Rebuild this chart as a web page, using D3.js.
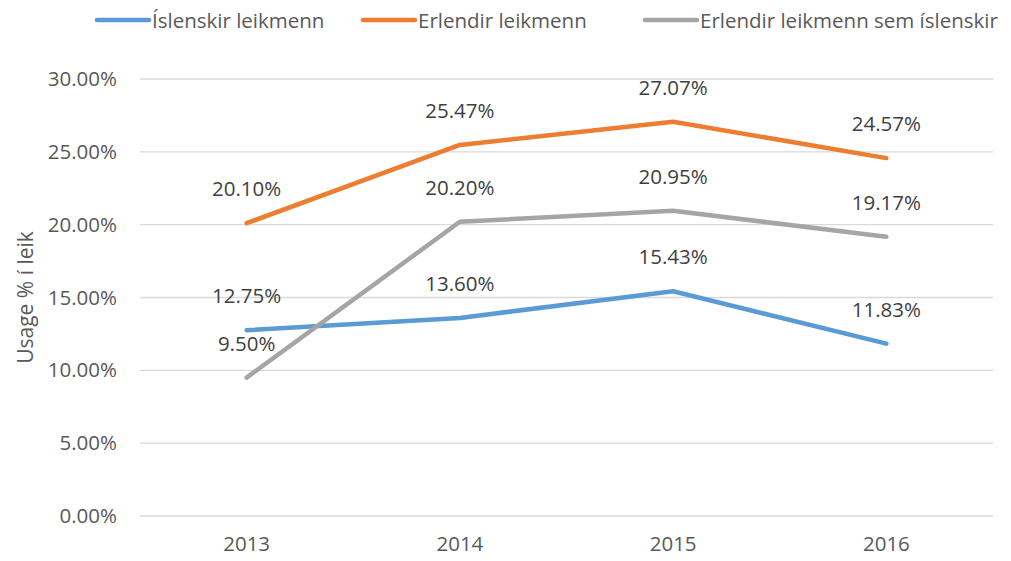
<!DOCTYPE html>
<html>
<head>
<meta charset="utf-8">
<script src="https://cdn.jsdelivr.net/npm/d3@7"></script>
<style>
  html, body { margin: 0; padding: 0; background: #fff; }
  svg { display: block; font-family: "Open Sans", sans-serif; }
</style>
</head>
<body>
<svg id="chart" width="1011" height="561"></svg>
<script>
// Years on the x axis
const years = ["2013", "2014", "2015", "2016"];
// Share of playing time (%) per group
const islenskir = [12.75, 13.60, 15.43, 11.83];
const erlendir = [20.10, 25.47, 27.07, 24.57];
const erlendirSemIsl = [9.50, 20.20, 20.95, 19.17];
// Y axis tick values (%)
const yTicks = [0, 5, 10, 15, 20, 25, 30];

const seriesNames = ["Íslenskir leikmenn", "Erlendir leikmenn", "Erlendir leikmenn sem íslenskir"];
const seriesColors = ["#5B9BD5", "#ED7D31", "#A5A5A5"];
const series = [islenskir, erlendir, erlendirSemIsl].map((vals, i) => ({
  name: seriesNames[i], color: seriesColors[i], values: vals
}));

const svg = d3.select("#chart");
const margin = { left: 140, right: 18, top: 79, bottom: 45 };
const W = 1011, H = 561;

const x = d3.scaleBand().domain(years).range([margin.left, W - margin.right]);
const y = d3.scaleLinear().domain([0, 30]).range([H - margin.bottom, margin.top]);

// Horizontal gridlines
svg.append("g")
  .selectAll("line")
  .data(yTicks)
  .join("line")
  .attr("x1", margin.left).attr("x2", W - margin.right)
  .attr("y1", d => y(d)).attr("y2", d => y(d))
  .attr("stroke", "#d9d9d9").attr("stroke-width", 1.3);

// Y axis labels
const yAxis = d3.axisLeft(y).tickValues(yTicks).tickFormat(d => d.toFixed(2) + "%").tickSize(0).tickPadding(23);
svg.append("g")
  .attr("transform", `translate(${margin.left},0)`)
  .call(yAxis)
  .call(g => g.select(".domain").remove())
  .call(g => g.selectAll("text")
    .attr("font-family", "Open Sans, sans-serif")
    .attr("font-size", 20.5).attr("fill", "#595959"));

// X axis labels
const xAxis = d3.axisBottom(x).tickSize(0).tickPadding(20);
svg.append("g")
  .attr("transform", `translate(0,${y(0)})`)
  .call(xAxis)
  .call(g => g.select(".domain").remove())
  .call(g => g.selectAll("text")
    .attr("font-family", "Open Sans, sans-serif")
    .attr("font-size", 20.5).attr("fill", "#595959"));

// Y axis title
svg.append("text")
  .attr("transform", `translate(25,${(y(0) + y(30)) / 2}) rotate(-90)`)
  .attr("text-anchor", "middle").attr("dominant-baseline", "central")
  .attr("font-size", 21).attr("fill", "#595959")
  .text("Usage % í leik");

const cx = d => x(d) + x.bandwidth() / 2;
const line = d3.line().x((d, i) => cx(years[i])).y(d => y(d));

// Series lines
svg.append("g")
  .selectAll("path")
  .data(series)
  .join("path")
  .attr("d", s => line(s.values))
  .attr("fill", "none")
  .attr("stroke", s => s.color)
  .attr("stroke-width", 4.5)
  .attr("stroke-linecap", "round")
  .attr("stroke-linejoin", "round");

// Value labels above each point
series.forEach(s => {
  svg.append("g")
    .selectAll("text")
    .data(s.values)
    .join("text")
    .attr("x", (d, i) => cx(years[i]))
    .attr("y", d => y(d) - 35)
    .attr("text-anchor", "middle").attr("dominant-baseline", "central")
    .attr("font-size", 20.5).attr("fill", "#404040")
    .text(d => d.toFixed(2) + "%");
});

// Legend
const legendX = [97, 363, 645];
const legend = svg.append("g")
  .selectAll("g")
  .data(series)
  .join("g")
  .attr("transform", (d, i) => `translate(${legendX[i]},20)`);
legend.append("line")
  .attr("x1", 0).attr("x2", 52).attr("y1", 0).attr("y2", 0)
  .attr("stroke", d => d.color).attr("stroke-width", 4.5).attr("stroke-linecap", "round");
legend.append("text")
  .attr("x", 55).attr("y", 0)
  .attr("dominant-baseline", "central")
  .attr("font-size", 20.5).attr("fill", "#595959")
  .text(d => d.name);
</script>
</body>
</html>
